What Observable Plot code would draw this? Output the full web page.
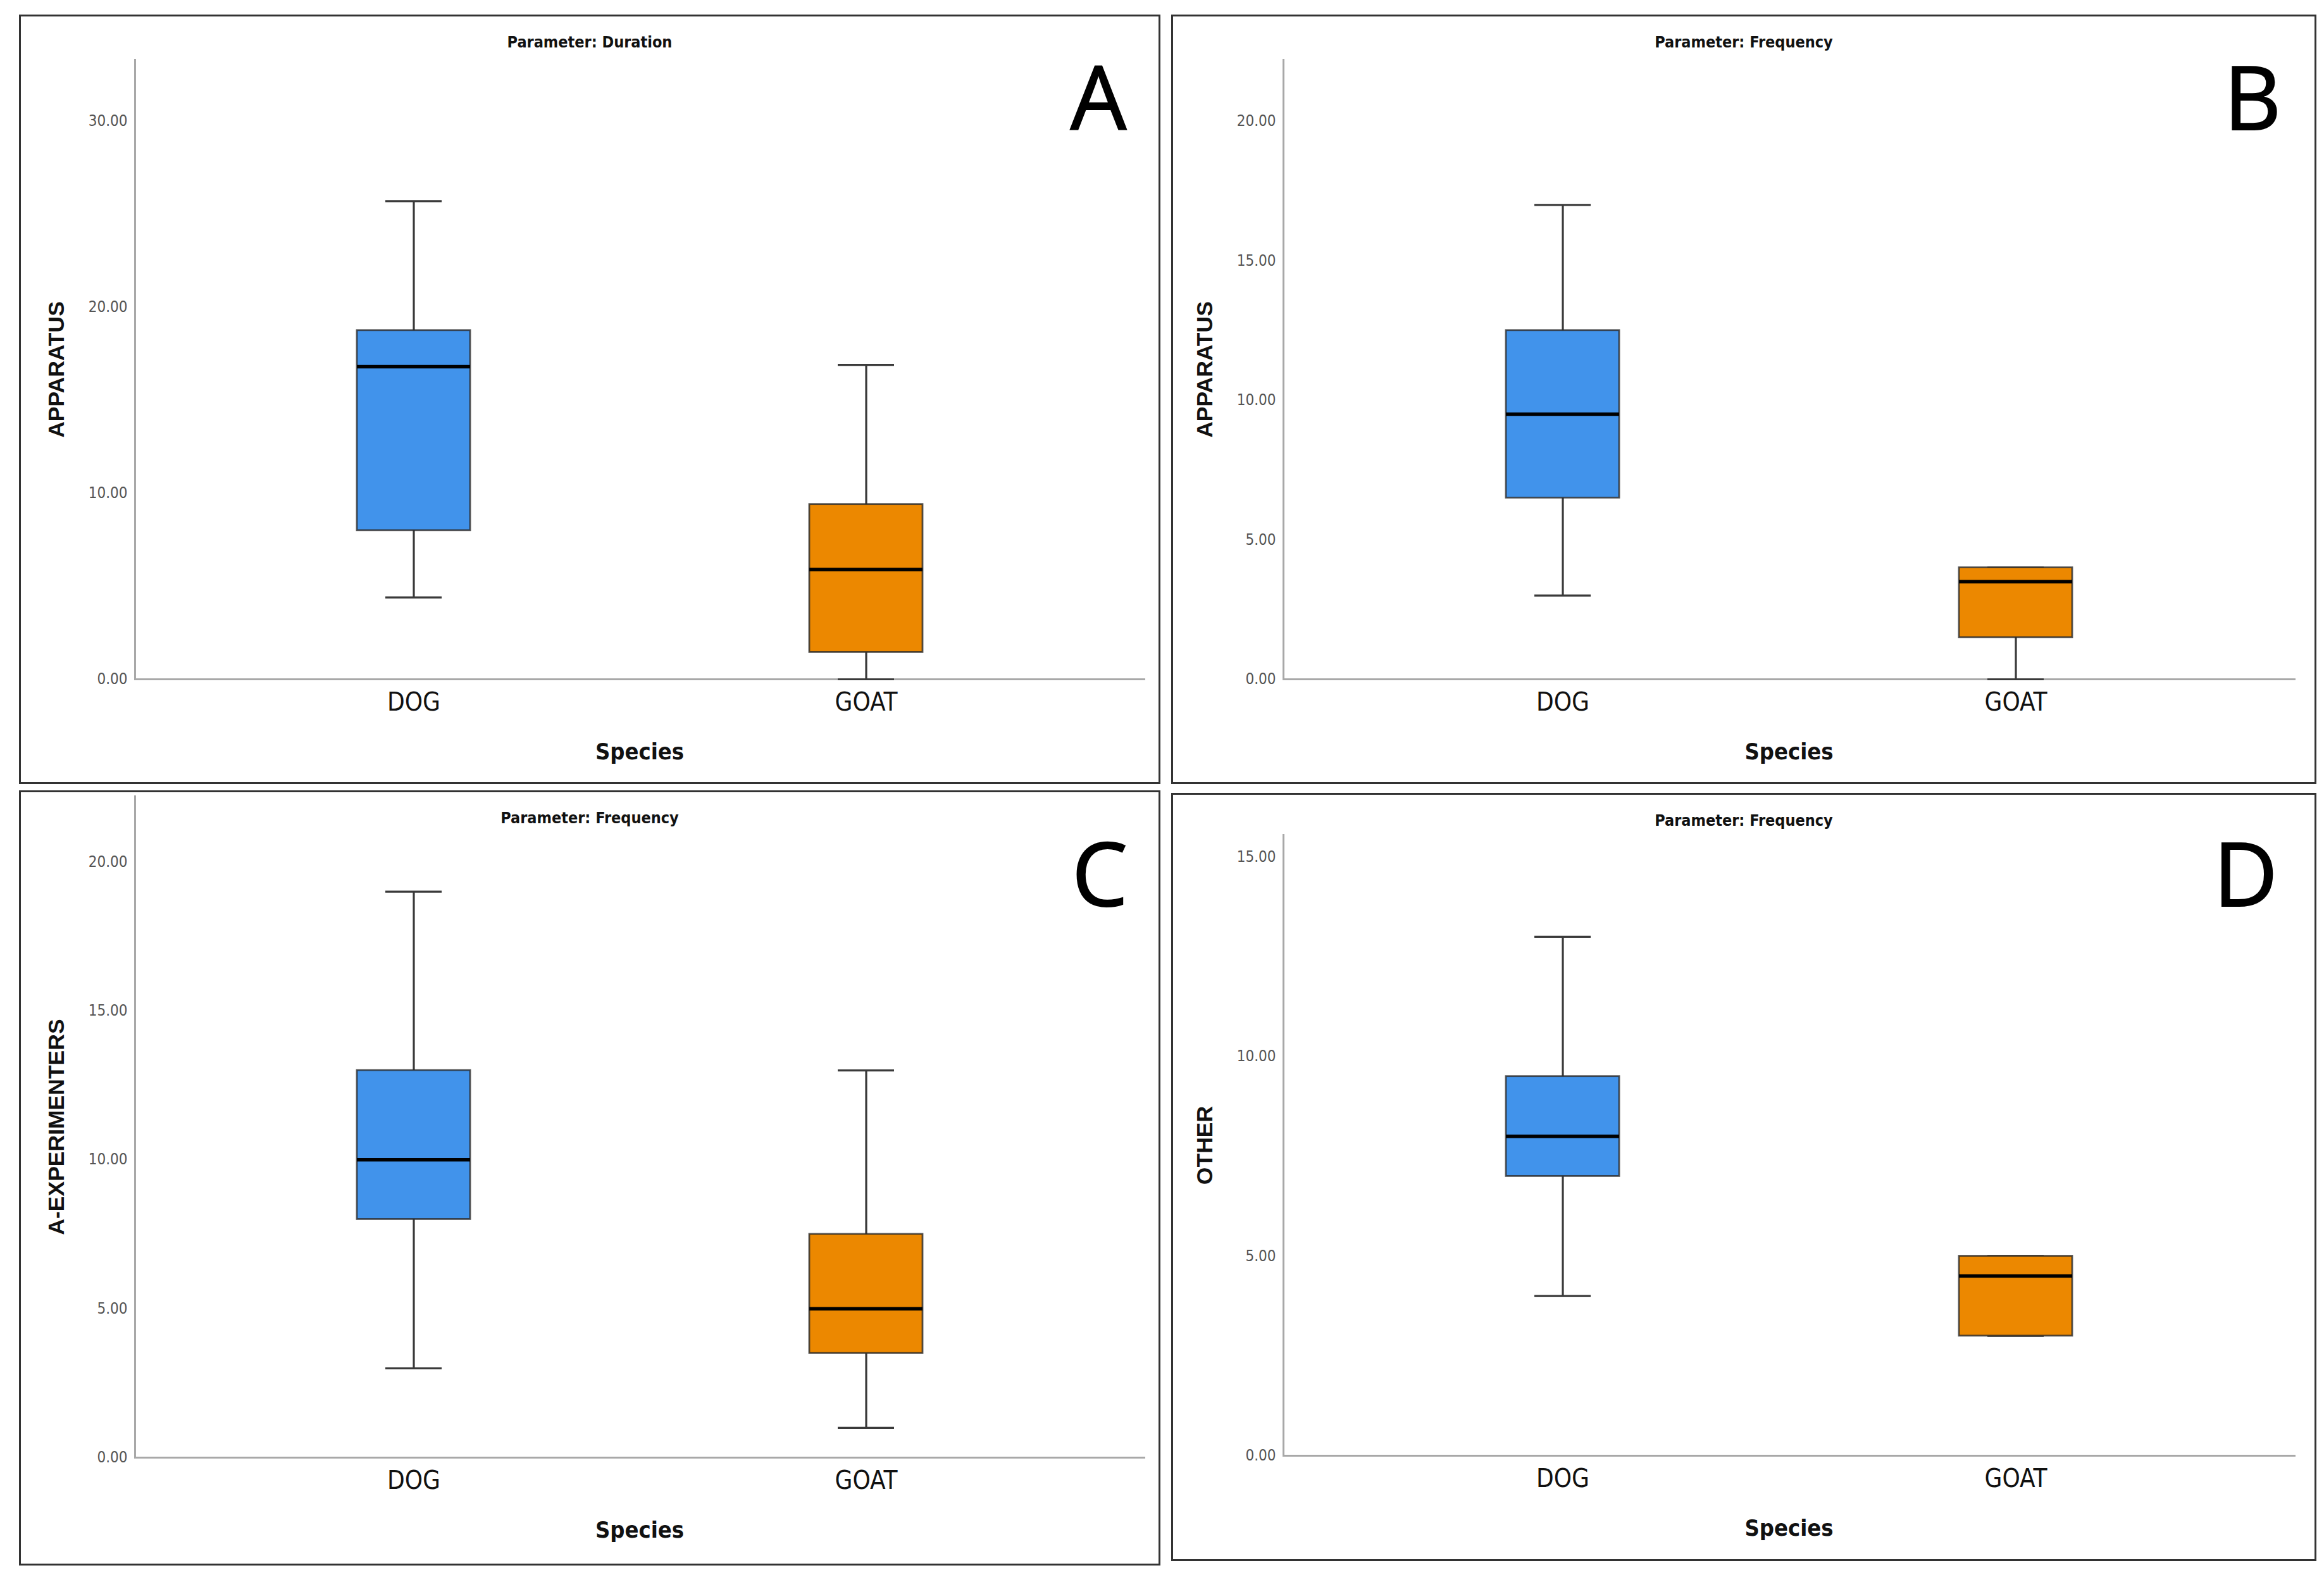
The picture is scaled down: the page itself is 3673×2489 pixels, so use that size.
<!DOCTYPE html>
<html>
<head>
<meta charset="utf-8">
<script src="https://cdn.jsdelivr.net/npm/d3@7"></script>
<script src="https://cdn.jsdelivr.net/npm/@observablehq/plot@0.6"></script>
<style>
html, body { margin: 0; padding: 0; background: #fff; }
#root { position: relative; width: 3673px; height: 2489px; background: #fff; }
.panel { position: absolute; box-sizing: border-box; border: 3px solid #333; background: #fff; }
.panel svg { position: absolute; left: 0; top: 0; }
.ptitle { position: absolute; left: 0; right: 0; text-align: center; line-height: 1;
  font-family: "Liberation Sans Narrow", "DejaVu Sans Condensed", "Liberation Sans", sans-serif;
  font-weight: bold; font-size: 25px; color: #111; }
.letter { position: absolute; line-height: 1; font-family: "Open Sans", "Liberation Sans", sans-serif;
  font-size: 140px; color: #000; transform: translateX(-50%); -webkit-text-stroke: 2px #000; }
g[aria-label="y-axis label"] text { font-family: "Liberation Sans", Arial, sans-serif; font-weight: bold; font-size: 35.5px; fill: #111; }
g[aria-label="x-axis label"] text { font-weight: bold; font-size: 36px; fill: #111; }
</style>
</head>
<body>
<div id="root"></div>
<script>
// ---- data ----
const species = ["DOG", "GOAT"];
const speciesColors = ["#4193eb", "#ec8800"];
const panelLetters = ["A", "B", "C", "D"];
const panelTitles = ["Parameter: Duration", "Parameter: Frequency", "Parameter: Frequency", "Parameter: Frequency"];
const yLabels = ["APPARATUS", "APPARATUS", "A-EXPERIMENTERS", "OTHER"];
const xLabel = "Species";
const yTickValues = [[0, 10, 20, 30], [0, 5, 10, 15, 20], [0, 5, 10, 15, 20], [0, 5, 10, 15]];
const yDomainMax = [33.3, 22.2, 22.2, 15.55];
// per panel: [DOG, GOAT]
const whiskerLow  = [[4.4, 0],    [3.0, 0],   [3.0, 1.0],  [4.0, 3.0]];
const quartile1   = [[8.0, 1.45], [6.5, 1.5], [8.0, 3.5],  [7.0, 3.0]];
const medians     = [[16.8, 5.9], [9.5, 3.5], [10.0, 5.0], [8.0, 4.5]];
const quartile3   = [[18.75, 9.4],[12.5, 4.0],[13.0, 7.5], [9.5, 5.0]];
const whiskerHigh = [[25.7, 16.9],[17.0, 4.0],[19.0, 13.0],[13.0, 5.0]];

// ---- layout (pixels) ----
const layout = [
  {left: 30,   top: 23,   width: 1804, height: 1216, ml: 180, mt: 68, mr: 23, mb: 163, lx: 1703, ly: 55},
  {left: 1851, top: 23,   width: 1810, height: 1216, ml: 174, mt: 68, mr: 32, mb: 163, lx: 1706, ly: 55},
  {left: 30,   top: 1249, width: 1804, height: 1225, ml: 180, mt: 6,  mr: 23, mb: 168, lx: 1705, ly: 56},
  {left: 1851, top: 1253, width: 1810, height: 1214, ml: 174, mt: 63, mr: 32, mb: 164, lx: 1695, ly: 52}
];
const border = 3;
const narrow = '"Liberation Sans Narrow", "DejaVu Sans Condensed", "Liberation Sans", sans-serif';

const root = document.getElementById("root");

panelLetters.forEach((letter, p) => {
  const L = layout[p];
  const panel = document.createElement("div");
  panel.className = "panel";
  Object.assign(panel.style, {left: L.left + "px", top: L.top + "px", width: L.width + "px", height: L.height + "px"});
  root.appendChild(panel);

  const w = L.width - 2 * border, h = L.height - 2 * border;
  const rows = species.map((s, i) => ({
    species: s,
    lo: whiskerLow[p][i], q1: quartile1[p][i], med: medians[p][i], q3: quartile3[p][i], hi: whiskerHigh[p][i]
  }));

  const chart = Plot.plot({
    width: w, height: h,
    marginLeft: L.ml, marginRight: L.mr, marginTop: L.mt, marginBottom: L.mb,
    style: {background: "white", fontFamily: narrow, overflow: "visible"},
    x: {domain: species, paddingInner: 0.75, paddingOuter: 0.49},
    y: {domain: [0, yDomainMax[p]]},
    color: {domain: species, range: speciesColors},
    marks: [
      Plot.frame({anchor: "left", stroke: "#a8a8a8", strokeWidth: 3}),
      Plot.frame({anchor: "bottom", stroke: "#a8a8a8", strokeWidth: 3}),
      Plot.axisY({ticks: yTickValues[p], tickFormat: d3.format(".2f"), tickSize: 0, tickPadding: 12,
        fontSize: 24, fill: "#555", label: yLabels[p], labelAnchor: "center", labelOffset: 138, labelArrow: "none"}),
      Plot.axisX({tickSize: 0, tickPadding: 21, fontSize: 40, fill: "#111", label: xLabel,
        labelAnchor: "center", labelOffset: 126, labelArrow: "none"}),
      Plot.ruleX(rows, {x: "species", y1: "lo", y2: "q1", stroke: "#3a3a3a", strokeWidth: 3.2}),
      Plot.ruleX(rows, {x: "species", y1: "q3", y2: "hi", stroke: "#3a3a3a", strokeWidth: 3.2}),
      Plot.tickY(rows, {x: "species", y: "lo", insetLeft: 45, insetRight: 45, stroke: "#3a3a3a", strokeWidth: 3.2}),
      Plot.tickY(rows, {x: "species", y: "hi", insetLeft: 45, insetRight: 45, stroke: "#3a3a3a", strokeWidth: 3.2}),
      Plot.barY(rows, {x: "species", y1: "q1", y2: "q3", fill: "species", stroke: "#2a2a2a", strokeOpacity: 0.8, strokeWidth: 2.8}),
      Plot.tickY(rows, {x: "species", y: "med", stroke: "#000", strokeWidth: 5.5})
    ]
  });
  panel.appendChild(chart);

  const title = document.createElement("div");
  title.className = "ptitle";
  title.style.top = "28px";
  title.textContent = panelTitles[p];
  panel.appendChild(title);

  const lab = document.createElement("div");
  lab.className = "letter";
  lab.style.left = L.lx + "px";
  lab.style.top = L.ly + "px";
  lab.textContent = letter;
  panel.appendChild(lab);
});
</script>
</body>
</html>
